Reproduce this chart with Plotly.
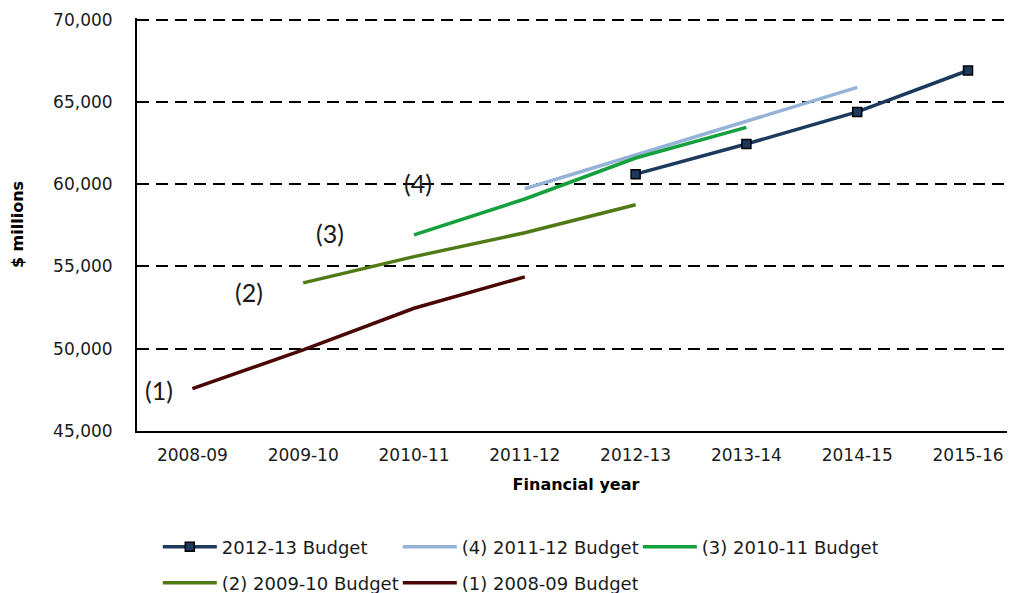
import plotly.graph_objects as go

years = ["2008-09", "2009-10", "2010-11", "2011-12",
         "2012-13", "2013-14", "2014-15", "2015-16"]

# $ millions
budget_2012_13 = [None, None, None, None, 60610, 62440, 64390, 66910]
budget_2011_12 = [None, None, None, 59720, 61790, 63850, 65880, None]
budget_2010_11 = [None, None, 56920, 59100, 61590, 63450, None, None]
budget_2009_10 = [None, 54000, 55600, 57050, 58750, None, None, None]
budget_2008_09 = [47580, 49930, 52460, 54370, None, None, None, None]

labels = ["(1)", "(2)", "(3)", "(4)"]
label_x = [-0.30, 0.51, 1.24, 2.04]
label_y = [47500, 53450, 57050, 60100]

tick_font = dict(family="DejaVu Sans", size=17, color="#1a1a1a")
title_font = dict(family="DejaVu Sans", size=16, color="#000000")

fig = go.Figure()

fig.add_trace(go.Scatter(
    x=years, y=budget_2012_13, name="2012-13 Budget", mode="lines+markers",
    line=dict(color="#1c3a5e", width=3.5),
    marker=dict(symbol="square", size=9, color="#1c3a5e",
                line=dict(color="#000000", width=1.5)),
    legend="legend"))
fig.add_trace(go.Scatter(
    x=years, y=budget_2011_12, name="(4) 2011-12 Budget", mode="lines",
    line=dict(color="#95b3d7", width=3.5), legend="legend"))
fig.add_trace(go.Scatter(
    x=years, y=budget_2010_11, name="(3) 2010-11 Budget", mode="lines",
    line=dict(color="#14a03c", width=3.5), legend="legend"))
fig.add_trace(go.Scatter(
    x=years, y=budget_2009_10, name="(2) 2009-10 Budget", mode="lines",
    line=dict(color="#4f7a14", width=3.5), legend="legend2"))
fig.add_trace(go.Scatter(
    x=years, y=budget_2008_09, name="(1) 2008-09 Budget", mode="lines",
    line=dict(color="#4a0505", width=3.5), legend="legend2"))

for txt, lx, ly in zip(labels, label_x, label_y):
    fig.add_annotation(x=lx, y=ly, text=txt, showarrow=False,
                       font=dict(family="Lato", size=25, color="#1a1a1a"))

legend_style = dict(
    orientation="h", xanchor="left", yanchor="middle",
    font=dict(family="DejaVu Sans", size=18, color="#1a1a1a"),
    itemwidth=54, entrywidth=171, entrywidthmode="pixels",
    bgcolor="rgba(0,0,0,0)")

# the page body adds an 8px offset, so margins are trimmed to compensate
fig.update_layout(
    width=1015, height=593,
    margin=dict(l=129, r=8, t=10, b=170, autoexpand=False),
    paper_bgcolor="white", plot_bgcolor="white",
    xaxis=dict(
        type="category", range=[-0.5, 7.424], automargin=False,
        showline=True, linecolor="#000000", linewidth=2,
        showgrid=False, ticks="", tickfont=tick_font, ticklabelstandoff=8,
        title=dict(text="<b>Financial year</b>", font=title_font, standoff=14)),
    yaxis=dict(
        range=[45000, 70100], dtick=5000, tickformat=",d", automargin=False,
        showline=True, linecolor="#000000", linewidth=2,
        showgrid=True, gridcolor="#000000", gridwidth=1.5,
        griddash="12px,7px", zeroline=False, ticks="",
        tickfont=tick_font, ticklabelstandoff=19,
        title=dict(text="<b>$ millions</b>", font=title_font, standoff=29)),
    legend=dict(x=0.0237, y=-0.281, **legend_style),
    legend2=dict(x=0.0237, y=-0.368, **legend_style),
)

fig.write_html("out.html")
